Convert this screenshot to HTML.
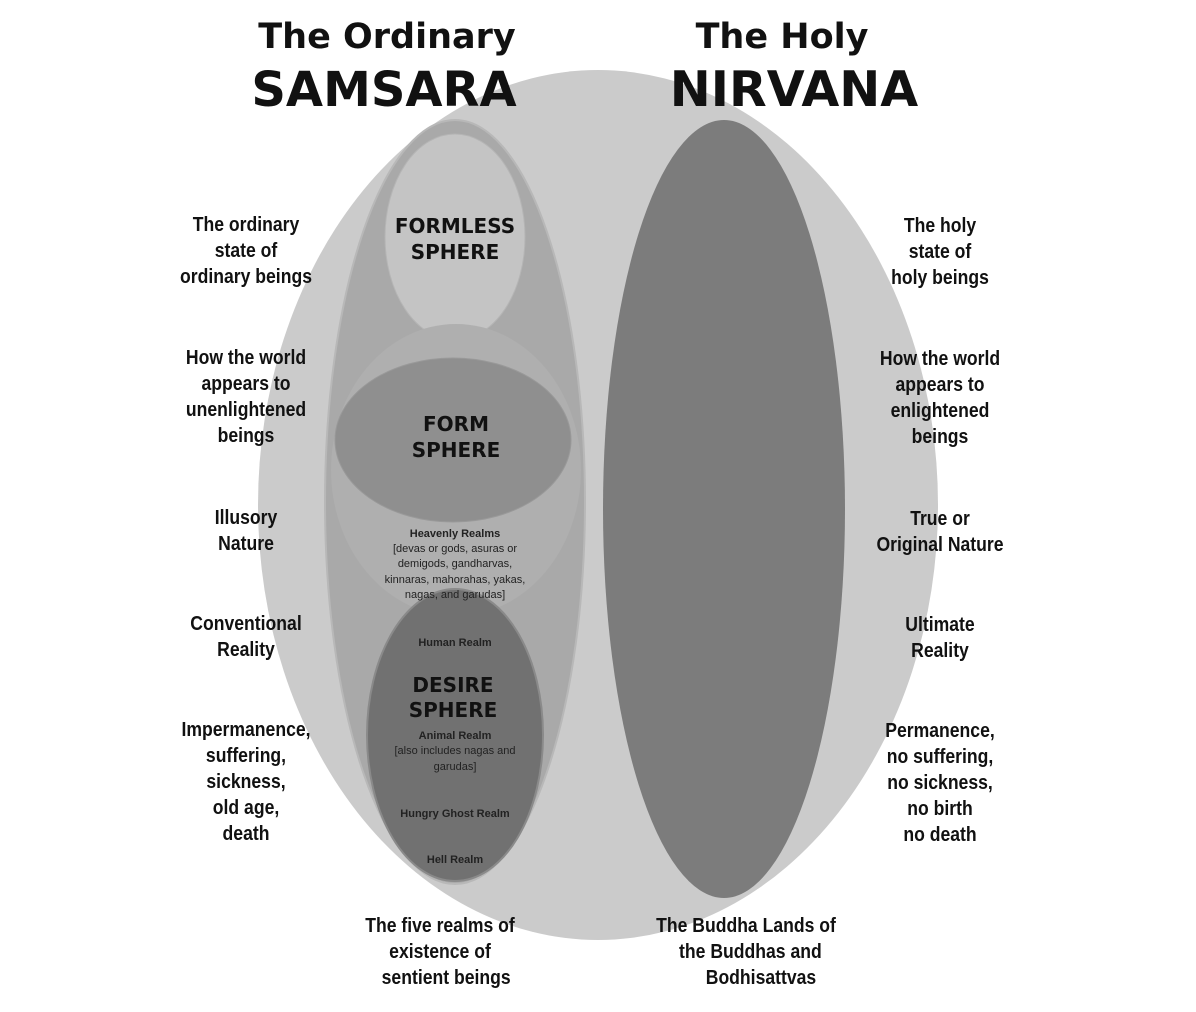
<!DOCTYPE html>
<html><head><meta charset="utf-8"><style>
html,body{margin:0;padding:0;background:#fff;}
svg{display:block}
.t{font-family:"DejaVu Sans","Liberation Sans",sans-serif;font-weight:bold;fill:#111;text-anchor:middle}
.s{font-family:"Liberation Sans",sans-serif;font-weight:bold;fill:#111;text-anchor:middle;font-size:20px}
.r{font-family:"Liberation Sans",sans-serif;font-weight:bold;fill:#222;text-anchor:middle;font-size:11px}
.n{font-family:"Liberation Sans",sans-serif;fill:#222;text-anchor:middle;font-size:11px}
</style></head><body>
<svg width="1196" height="1012" viewBox="0 0 1196 1012">
<rect width="1196" height="1012" fill="#fff"/>
<ellipse cx="598" cy="505" rx="340" ry="435" fill="#cbcbcb"/>
<ellipse cx="455" cy="502" rx="130" ry="382" fill="#a9a9a9" stroke="#b8b8b8" stroke-width="2"/>
<ellipse cx="455" cy="237" rx="70" ry="103" fill="#c4c4c4" stroke="#b5b5b5"/>
<ellipse cx="456" cy="470" rx="125" ry="146" fill="#afafaf"/>
<ellipse cx="453" cy="440" rx="118" ry="82" fill="#8f8f8f" stroke="#999"/>
<ellipse cx="455" cy="735" rx="88" ry="146" fill="#717171" stroke="#8a8a8a" stroke-width="2"/>
<ellipse cx="724" cy="509" rx="121" ry="389" fill="#7c7c7c"/>

<text class="t" x="387" y="48" font-size="35">The Ordinary</text>
<text class="t" x="384" y="106" font-size="48">SAMSARA</text>
<text class="t" x="782" y="48" font-size="35">The Holy</text>
<text class="t" x="794" y="106" font-size="49">NIRVANA</text>

<text class="t" x="455" y="233" font-size="20">FORMLESS</text>
<text class="t" x="455" y="259" font-size="20">SPHERE</text>
<text class="t" x="456" y="431" font-size="20">FORM</text>
<text class="t" x="456" y="457" font-size="20">SPHERE</text>
<text class="r" x="455" y="537">Heavenly Realms</text>
<text class="n" x="455" y="552">[devas or gods, asuras or</text>
<text class="n" x="455" y="567">demigods, gandharvas,</text>
<text class="n" x="455" y="583">kinnaras, mahorahas, yakas,</text>
<text class="n" x="455" y="598">nagas, and garudas]</text>
<text class="r" x="455" y="646">Human Realm</text>
<text class="t" x="453" y="692" font-size="20">DESIRE</text>
<text class="t" x="453" y="717" font-size="20">SPHERE</text>
<text class="r" x="455" y="739">Animal Realm</text>
<text class="n" x="455" y="754">[also includes nagas and</text>
<text class="n" x="455" y="770">garudas]</text>
<text class="r" x="455" y="817">Hungry Ghost Realm</text>
<text class="r" x="455" y="863">Hell Realm</text>

<g class="s" transform="translate(246,0) scale(0.88,1)">
<text x="0" y="231">The ordinary</text><text x="0" y="257">state of</text><text x="0" y="283">ordinary beings</text>
<text x="0" y="364">How the world</text><text x="0" y="390">appears to</text><text x="0" y="416">unenlightened</text><text x="0" y="442">beings</text>
<text x="0" y="524">Illusory</text><text x="0" y="550">Nature</text>
<text x="0" y="630">Conventional</text><text x="0" y="656">Reality</text>
<text x="0" y="736">Impermanence,</text><text x="0" y="762">suffering,</text><text x="0" y="788">sickness,</text><text x="0" y="814">old age,</text><text x="0" y="840">death</text>
</g>
<g class="s" transform="translate(940,0) scale(0.88,1)">
<text x="0" y="232">The holy</text><text x="0" y="258">state of</text><text x="0" y="284">holy beings</text>
<text x="0" y="365">How the world</text><text x="0" y="391">appears to</text><text x="0" y="417">enlightened</text><text x="0" y="443">beings</text>
<text x="0" y="525">True or</text><text x="0" y="551">Original Nature</text>
<text x="0" y="631">Ultimate</text><text x="0" y="657">Reality</text>
<text x="0" y="737">Permanence,</text><text x="0" y="763">no suffering,</text><text x="0" y="789">no sickness,</text><text x="0" y="815">no birth</text><text x="0" y="841">no death</text>
</g>
<g class="s" transform="translate(440,0) scale(0.88,1)">
<text x="0" y="932">The five realms of</text><text x="0" y="958">existence of</text><text x="7" y="984">sentient beings</text>
</g>
<g class="s" transform="translate(746,0) scale(0.88,1)">
<text x="0" y="932">The Buddha Lands of</text><text x="5" y="958">the Buddhas and</text><text x="17" y="984">Bodhisattvas</text>
</g>
</svg>
</body></html>
